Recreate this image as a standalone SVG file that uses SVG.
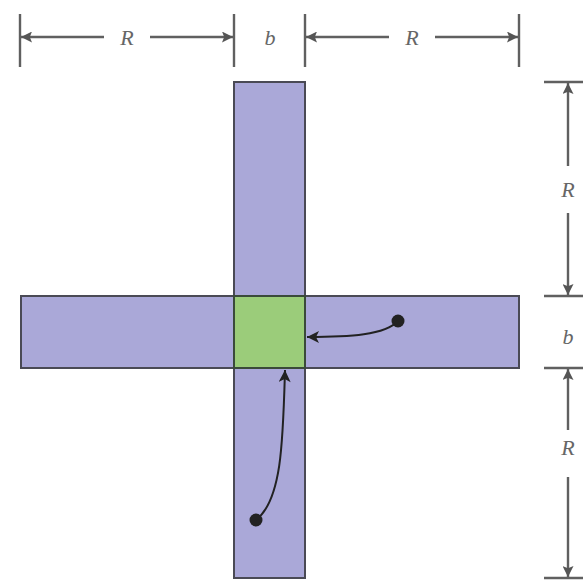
<svg xmlns="http://www.w3.org/2000/svg" width="583" height="581" viewBox="0 0 583 581">
<style>
.bar{fill:#aaa8d8;stroke:#4a4a55;stroke-width:2}
.sq{fill:#9bcc7a;stroke:#3a4a3a;stroke-width:2}
.dim{stroke:#606060;stroke-width:2.4;fill:none}
.lbl{font-family:"Liberation Serif","Times New Roman",serif;font-style:italic;font-size:22px;fill:#666;text-anchor:middle}
.flow{stroke:#222;stroke-width:2;fill:none}
</style>
<defs>
<marker id="ah" viewBox="0 0 10 10" refX="10" refY="5" markerWidth="14" markerHeight="11" markerUnits="userSpaceOnUse" orient="auto"><path d="M0,0 L10,5 L0,10 L2,5 Z" fill="#555"/></marker>
<marker id="fh" viewBox="0 0 10 10" refX="10" refY="5" markerWidth="15" markerHeight="12" markerUnits="userSpaceOnUse" orient="auto"><path d="M0,0 L10,5 L0,10 L2.5,5 Z" fill="#222"/></marker>
</defs>
<g id="vertical-bar"><rect class="bar" x="234" y="82" width="71" height="496"/></g>
<g id="horizontal-bar"><rect class="bar" x="21" y="296" width="498" height="72"/></g>
<g id="center-square"><rect class="sq" x="234" y="296" width="71" height="72"/></g>
<g id="dimensions">
<line class="dim" x1="20" y1="14" x2="20" y2="67"/>
<line class="dim" x1="234" y1="14" x2="234" y2="67"/>
<line class="dim" x1="305" y1="14" x2="305" y2="67"/>
<line class="dim" x1="519" y1="14" x2="519" y2="67"/>
<line class="dim" x1="104" y1="37" x2="21" y2="37" marker-end="url(#ah)"/>
<line class="dim" x1="150" y1="37" x2="233" y2="37" marker-end="url(#ah)"/>
<line class="dim" x1="389" y1="37" x2="306" y2="37" marker-end="url(#ah)"/>
<line class="dim" x1="435" y1="37" x2="518" y2="37" marker-end="url(#ah)"/>
<text class="lbl" x="127" y="45">R</text>
<text class="lbl" x="270" y="45">b</text>
<text class="lbl" x="412" y="45">R</text>
<line class="dim" x1="544" y1="82" x2="583" y2="82"/>
<line class="dim" x1="544" y1="296" x2="583" y2="296"/>
<line class="dim" x1="544" y1="368" x2="583" y2="368"/>
<line class="dim" x1="544" y1="578" x2="583" y2="578"/>
<line class="dim" x1="568" y1="166" x2="568" y2="83" marker-end="url(#ah)"/>
<line class="dim" x1="568" y1="213" x2="568" y2="295" marker-end="url(#ah)"/>
<line class="dim" x1="568" y1="430" x2="568" y2="369" marker-end="url(#ah)"/>
<line class="dim" x1="568" y1="477" x2="568" y2="577" marker-end="url(#ah)"/>
<text class="lbl" x="568" y="197">R</text>
<text class="lbl" x="568" y="344">b</text>
<text class="lbl" x="568" y="455">R</text>
</g>
<g id="connectors">
<circle cx="398" cy="321" r="6.5" fill="#222"/>
<path class="flow" d="M398,321 C385,335 350,337 307,337" marker-end="url(#fh)"/>
<circle cx="256" cy="520" r="6.5" fill="#222"/>
<path class="flow" d="M256,520 C282,500 283,440 285,370" marker-end="url(#fh)"/>
</g>
</svg>
